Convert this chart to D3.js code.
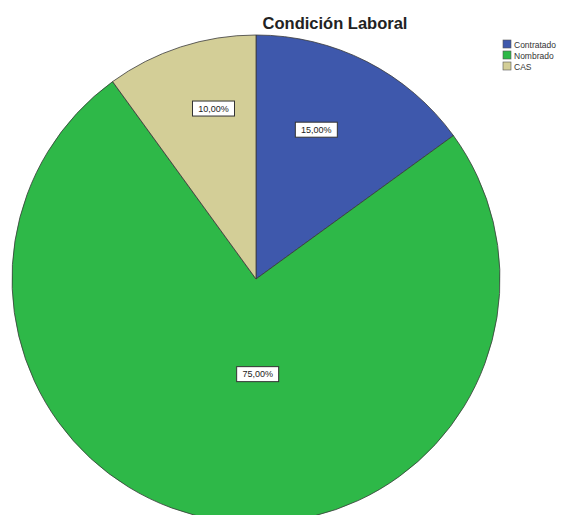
<!DOCTYPE html>
<html>
<head>
<meta charset="utf-8">
<script src="https://cdn.jsdelivr.net/npm/d3@7"></script>
<style>
  body { margin: 0; background: #fff; }
  svg { display: block; }
</style>
</head>
<body>
<div id="chart"></div>
<script>
// data
var categories = ["Contratado", "Nombrado", "CAS"];
var percents = [15, 75, 10];
var colors = ["#3e58ac", "#2eb848", "#d3ce97"];
// where SPSS happened to park each label (fraction of radius, angle shift in deg)
var labelRadius = [0.66, 0.39, 0.72];
var labelShift = [-5, -10, 4];

var W = 576, H = 515;
var cx = 256, cy = 279, R = 244;

var svg = d3.select("#chart").append("svg")
    .attr("width", W).attr("height", H);

var data = categories.map((c, i) => ({name: c, value: percents[i], color: colors[i], i: i}));

var pie = d3.pie().value(d => d.value).sort(null);
var arc = d3.arc().innerRadius(0).outerRadius(R);
var arcs = pie(data);

var g = svg.append("g").attr("transform", `translate(${cx},${cy})`);

g.selectAll("path.slice").data(arcs).join("path")
    .attr("class", "slice")
    .attr("d", arc)
    .attr("fill", d => d.data.color)
    .attr("stroke", "#3a3a3a")
    .attr("stroke-width", 0.8);

// labels
var fmt = v => d3.format(".2f")(v).replace(".", ",") + "%";
var lab = g.selectAll("g.lab").data(arcs).join("g")
    .attr("class", "lab")
    .attr("transform", d => {
        var a = (d.startAngle + d.endAngle) / 2 + labelShift[d.data.i] * Math.PI / 180;
        var r = R * labelRadius[d.data.i];
        return `translate(${r * Math.sin(a)},${-r * Math.cos(a)})`;
    });
lab.append("rect")
    .attr("x", -21).attr("y", -7.5).attr("width", 42).attr("height", 15)
    .attr("fill", "#fff").attr("stroke", "#333").attr("stroke-width", 1);
lab.append("text")
    .attr("text-anchor", "middle").attr("dy", "0.35em")
    .attr("font-family", "Liberation Sans, Arial, sans-serif")
    .attr("font-size", 9).attr("fill", "#222")
    .text(d => fmt(d.data.value));

// title
svg.append("text")
    .attr("x", 335).attr("y", 29)
    .attr("text-anchor", "middle")
    .attr("font-family", "Liberation Sans, Arial, sans-serif")
    .attr("font-weight", "bold").attr("font-size", 16.5)
    .attr("fill", "#222")
    .text("Condición Laboral");

// legend
var leg = svg.append("g").attr("transform", "translate(503,40)");
var item = leg.selectAll("g").data(data).join("g")
    .attr("transform", (d, i) => `translate(0,${i * 11})`);
item.append("rect")
    .attr("width", 8).attr("height", 8)
    .attr("fill", d => d.color).attr("stroke", "#555").attr("stroke-width", 0.6);
item.append("text")
    .attr("x", 11).attr("y", 7.5)
    .attr("font-family", "Liberation Sans, Arial, sans-serif")
    .attr("font-size", 8.5).attr("fill", "#333")
    .text(d => d.name);
</script>
</body>
</html>
